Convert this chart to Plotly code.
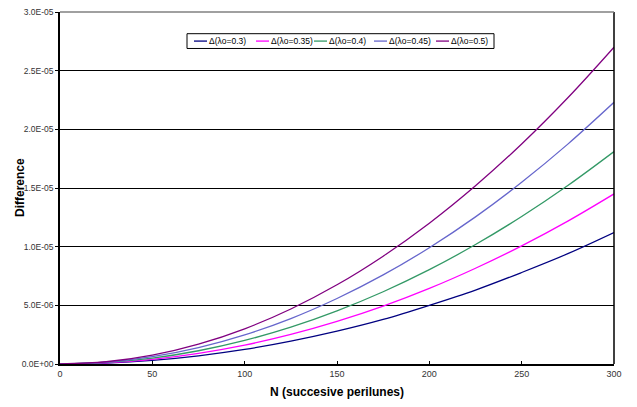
import plotly.graph_objects as go

N = [0, 25, 50, 75, 100, 125, 150, 175, 200, 225, 250, 275, 300]
d_030 = [0, 0.08e-6, 0.31e-6, 0.70e-6, 1.24e-6, 1.95e-6, 2.80e-6, 3.80e-6, 5.00e-6, 6.30e-6, 7.80e-6, 9.40e-6, 11.2e-6]
d_035 = [0, 0.10e-6, 0.40e-6, 0.91e-6, 1.61e-6, 2.52e-6, 3.63e-6, 4.93e-6, 6.44e-6, 8.16e-6, 10.07e-6, 12.18e-6, 14.5e-6]
d_040 = [0, 0.13e-6, 0.50e-6, 1.13e-6, 2.01e-6, 3.14e-6, 4.53e-6, 6.16e-6, 8.04e-6, 10.18e-6, 12.57e-6, 15.21e-6, 18.1e-6]
d_045 = [0, 0.15e-6, 0.62e-6, 1.39e-6, 2.48e-6, 3.87e-6, 5.58e-6, 7.59e-6, 9.91e-6, 12.54e-6, 15.49e-6, 18.74e-6, 22.3e-6]
d_050 = [0, 0.19e-6, 0.75e-6, 1.69e-6, 3.00e-6, 4.69e-6, 6.75e-6, 9.19e-6, 12.0e-6, 15.19e-6, 18.75e-6, 22.69e-6, 27.0e-6]

series_names = ["Δ(λo=0.3)", "Δ(λo=0.35)", "Δ(λo=0.4)", "Δ(λo=0.45)", "Δ(λo=0.5)"]
series_vals = [d_030, d_035, d_040, d_045, d_050]
colors = ["#000080", "#FF00FF", "#339966", "#6666CC", "#800080"]

y_tickvals = [0, 5e-6, 1e-5, 1.5e-5, 2e-5, 2.5e-5, 3e-5]
y_ticktext = ["0.0E+00", "5.0E-06", "1.0E-05", "1.5E-05", "2.0E-05", "2.5E-05", "3.0E-05"]
x_tickvals = [0, 50, 100, 150, 200, 250, 300]

fig = go.Figure()
for name, vals, c in zip(series_names, series_vals, colors):
    fig.add_trace(go.Scatter(x=N, y=vals, name=name, mode="lines",
                             line=dict(color=c, width=1.3, shape="spline")))

W, H = 637, 407
ML, MR, MT, MB = 60, 23, 7, 43
PW, PH = W - ML - MR, H - MT - MB


def px(x):
    return (x - ML) / PW


def py(y):
    return (H - MB - y) / PH


font = "Liberation Sans, Arial, sans-serif"
fig.update_layout(
    width=W, height=H,
    margin=dict(l=ML, r=MR, t=MT, b=MB),
    paper_bgcolor="white", plot_bgcolor="white",
    font=dict(family=font, size=9, color="#222"),
    showlegend=False,
    xaxis=dict(range=[0, 300], tickvals=x_tickvals, showgrid=False, zeroline=False,
               showline=True, linecolor="black", linewidth=2, mirror=False,
               ticks="inside", ticklen=3, tickcolor="black",
               tickfont=dict(size=9, color="#333"),
               title=dict(text="<b>N (succesive perilunes)</b>", font=dict(size=12, color="black"), standoff=10)),
    yaxis=dict(range=[0, 3e-5], tickvals=y_tickvals, ticktext=y_ticktext,
               showgrid=True, gridcolor="black", gridwidth=1, zeroline=False,
               showline=True, linecolor="black", linewidth=1.5,
               ticks="outside", ticklen=3, tickcolor="black",
               tickfont=dict(size=8.5, color="#333")),
)
# y-axis title placed as annotation
fig.add_annotation(text="<b>Difference</b>", xref="paper", yref="paper",
                   x=px(20), y=0.5, xanchor="center", yanchor="middle",
                   textangle=-90, showarrow=False,
                   font=dict(size=12, color="black", family=font))

# legend box drawn manually (compact, Excel-like)
fig.add_shape(type="rect", xref="paper", yref="paper",
              x0=px(187), x1=px(494), y0=py(44), y1=py(29),
              line=dict(color="black", width=1), fillcolor="white", layer="above")
leg_line_x = [194, 256, 314, 374, 436]
for i, (name, c) in enumerate(zip(series_names, colors)):
    x0 = leg_line_x[i]
    fig.add_shape(type="line", xref="paper", yref="paper",
                  x0=px(x0), x1=px(x0 + 13), y0=py(36.5), y1=py(36.5),
                  line=dict(color=c, width=1.3), layer="above")
    fig.add_annotation(text=name, xref="paper", yref="paper",
                       x=px(x0 + 14), y=py(36.5), xanchor="left", yanchor="middle",
                       showarrow=False, borderpad=0,
                       font=dict(size=8.5, color="black", family=font))

# right border and top border
fig.add_shape(type="line", xref="paper", yref="paper", x0=1, x1=1, y0=0, y1=1,
              line=dict(color="black", width=1.5))
fig.add_shape(type="line", xref="paper", yref="paper", x0=0, x1=1, y0=1, y1=1,
              line=dict(color="#808080", width=1.5))

fig.write_html("out.html")
